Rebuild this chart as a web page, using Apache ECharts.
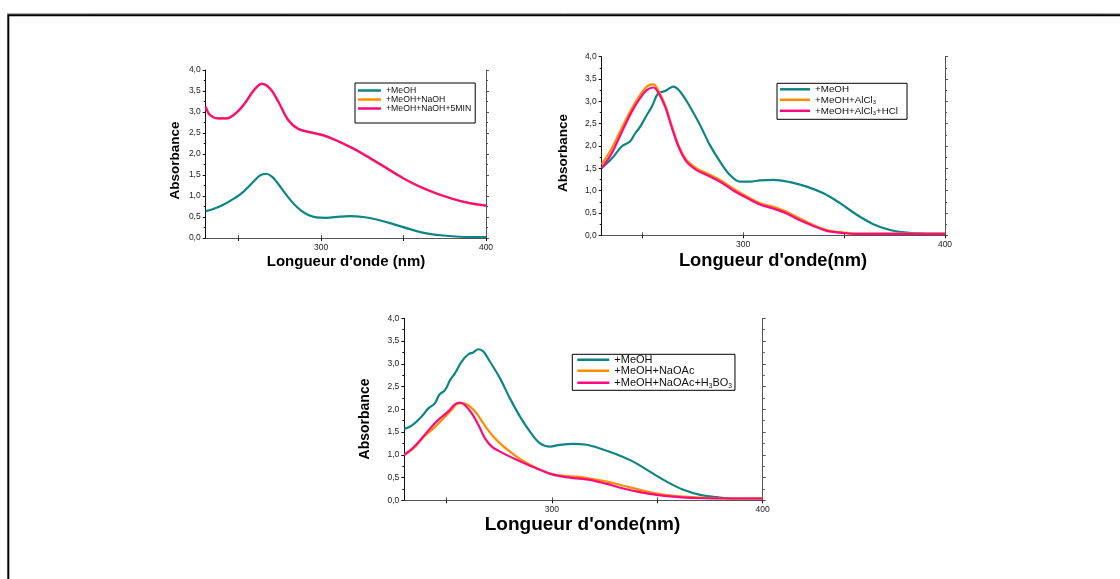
<!DOCTYPE html>
<html><head><meta charset="utf-8">
<script src="https://cdn.jsdelivr.net/npm/echarts@6/dist/echarts.min.js"></script>
<style>html,body{margin:0;padding:0;background:#fff}#c{width:1120px;height:579px}</style>
</head><body><div id="c"></div>
<script>
// ---------- DATA ----------
const X_TICKS = [250, 300, 350, 400];
const X_LABELS = [300, 400];

// Panel 1: MeOH / MeOH+NaOH / MeOH+NaOH+5MIN
const P1_WL_MEOH = [230,234.6,240.7,246.8,252.8,258.9,263,266.5,270,273,279,285,291,297,303,311.5,317.5,325.6,333.7,343.8,353.9,364,374,384,400];
const P1_MEOH    = [0.64,0.69,0.79,0.93,1.10,1.34,1.49,1.53,1.47,1.34,1.02,0.75,0.57,0.49,0.48,0.51,0.52,0.50,0.44,0.33,0.21,0.11,0.06,0.03,0.02];
const P1_WL_NAOH = [230,232.6,237.7,242.7,248.8,253.8,258.9,264,269,274,280,286,293,301,309,319.5,329.7,339.8,349.9,360,370,380,390,400];
const P1_NAOH    = [3.13,2.93,2.85,2.85,2.99,3.21,3.50,3.67,3.56,3.25,2.81,2.60,2.52,2.45,2.33,2.13,1.90,1.66,1.42,1.22,1.06,0.93,0.83,0.77];
const P1_NAOH5   = [3.13,2.93,2.85,2.85,2.99,3.21,3.50,3.67,3.56,3.25,2.81,2.60,2.52,2.45,2.33,2.13,1.90,1.66,1.42,1.22,1.06,0.93,0.83,0.77];

// Panel 2: MeOH / MeOH+AlCl3 / MeOH+AlCl3+HCl
const P2_WL_MEOH = [230,235,239.9,244,246.5,249,252.3,254.8,258,261.4,265.5,268.8,273.7,278.7,283.6,288.6,293.5,298.5,303.4,308.4,315,323.3,331.5,339.8,348,356.3,364.5,372.8,381,389.3,400];
const P2_MEOH    = [1.51,1.72,1.99,2.10,2.28,2.43,2.69,2.88,3.18,3.23,3.33,3.22,2.88,2.47,2.02,1.65,1.35,1.20,1.20,1.23,1.24,1.19,1.09,0.94,0.72,0.46,0.25,0.12,0.06,0.04,0.03];
const P2_WL_AL   = [230,235,239.9,244.9,249,252.3,255.6,258,261.4,264.6,268,272,277,282,288.6,295,301.8,308.4,315,321.6,328,334.8,341.4,348,356.3,372.8,400];
const P2_ALCL3   = [1.59,1.95,2.40,2.84,3.14,3.33,3.38,3.25,2.92,2.47,2.02,1.69,1.50,1.39,1.24,1.05,0.87,0.72,0.64,0.53,0.38,0.23,0.12,0.07,0.04,0.04,0.04];
const P2_ALCL3_HCL = [1.50,1.84,2.31,2.77,3.07,3.25,3.31,3.20,2.88,2.43,1.99,1.65,1.46,1.35,1.20,1.01,0.84,0.69,0.60,0.49,0.34,0.21,0.10,0.06,0.03,0.03,0.03];

// Panel 3: MeOH / MeOH+NaOAc / MeOH+NaOAc+H3BO3
const P3_WL_MEOH = [230,233.5,238.2,241.4,244.5,246.6,249.3,251.7,254,257.2,260.4,262.7,265.1,267.5,270.6,275.4,280.1,284.9,289.6,294.4,299.1,303.8,310.2,316.5,322.8,330.7,338.6,346.5,354.4,362.4,370.3,378.2,386,400];
const P3_MEOH    = [1.57,1.64,1.84,2.02,2.13,2.32,2.42,2.64,2.79,3.05,3.21,3.25,3.32,3.27,3.05,2.68,2.24,1.84,1.51,1.25,1.18,1.22,1.24,1.22,1.14,1.01,0.85,0.63,0.41,0.23,0.12,0.07,0.04,0.04];
const P3_WL_OAC  = [230,234.3,239,243.8,248.5,252.5,255.6,258,261.2,264.3,267.5,271.5,275.4,280.1,284.9,289.6,294.4,299.1,305.4,311.8,318.1,326,333.9,341.8,349.7,357.6,367,378.2,400];
const P3_NAOAC   = [1.00,1.14,1.38,1.58,1.80,1.99,2.13,2.13,2.06,1.91,1.69,1.44,1.25,1.07,0.91,0.78,0.67,0.59,0.54,0.52,0.48,0.41,0.32,0.23,0.15,0.10,0.07,0.04,0.04];
const P3_WL_BOR  = [230,234.3,239,243.8,246.9,251,254,256.4,258.8,262,265.1,268.3,271.5,275.4,280.1,284.9,289.6,294.4,299.1,305.4,311.8,318.1,326,333.9,341.8,349.7,357.6,367,400];
const P3_NAOAC_H3BO3 = [1.00,1.16,1.40,1.66,1.80,1.96,2.11,2.15,2.09,1.91,1.66,1.36,1.18,1.07,0.96,0.86,0.76,0.67,0.58,0.52,0.48,0.45,0.36,0.26,0.18,0.12,0.08,0.05,0.04];

// ---------- STYLE ----------
const TEAL = '#0E8585', ORANGE = '#FF8C00', PINK = '#FF0A7E';
const zip = (xs, ys) => xs.map((x, i) => [x, ys[i]]);

const GRIDS = [
  {left: 205.7, top: 70,    width: 280.3, height: 168},
  {left: 601.7, top: 56.7,  width: 343.3, height: 178.6},
  {left: 404.3, top: 318.3, width: 358.4, height: 182}
];

const LEG_TEXT = {
  p1a: '{n|+MeOH}', p1b: '{n|+MeOH+NaOH}', p1c: '{n|+MeOH+NaOH+5MIN}',
  p2a: '{n|+MeOH}', p2b: '{n|+MeOH+AlCl}{s|3}', p2c: '{n|+MeOH+AlCl}{s|3}{n|+HCl}',
  p3a: '{n|+MeOH}', p3b: '{n|+MeOH+NaOAc}', p3c: '{n|+MeOH+NaOAc+H}{s|3}{n|BO}{s|3}'
};

const xAxes = [], yAxes = [];
GRIDS.forEach((g, i) => {
  xAxes.push({
    type: 'value', gridIndex: i, min: 230, max: 400, position: 'bottom',
    axisLine: {lineStyle: {color: '#111', width: 1}},
    axisTick: {show: true, customValues: X_TICKS, length: 3, lineStyle: {color: '#111'}},
    axisLabel: {customValues: X_LABELS, fontSize: 8.5, color: '#222', margin: 5, fontFamily: 'Arial'},
    splitLine: {show: false}
  });
  xAxes.push({
    type: 'value', gridIndex: i, min: 230, max: 400, position: 'top',
    axisLine: {lineStyle: {color: '#555', width: 1}},
    axisTick: {show: true, customValues: X_TICKS, length: 3, lineStyle: {color: '#555'}},
    axisLabel: {show: false}, splitLine: {show: false}
  });
  yAxes.push({
    type: 'value', gridIndex: i, min: 0, max: 4, interval: 0.5, position: 'left',
    axisLine: {show: true, lineStyle: {color: '#111', width: 1}},
    axisTick: {show: true, length: 3, lineStyle: {color: '#111'}},
    minorTick: {show: true, splitNumber: 2, length: 2, lineStyle: {color: '#111'}},
    axisLabel: {fontSize: 8.5, color: '#222', margin: 5, fontFamily: 'Arial',
      formatter: v => v.toFixed(1).replace('.', ',')},
    splitLine: {show: false}
  });
  yAxes.push({
    type: 'value', gridIndex: i, min: 0, max: 4, interval: 0.5, position: 'right',
    axisLine: {show: true, lineStyle: {color: '#555', width: 1}},
    axisTick: {show: true, length: 3, lineStyle: {color: '#555'}},
    minorTick: {show: true, splitNumber: 2, length: 2, lineStyle: {color: '#555'}},
    axisLabel: {show: false}, splitLine: {show: false}
  });
});

function line(name, grid, data, color, z) {
  return {
    name, type: 'line', xAxisIndex: grid * 2, yAxisIndex: grid * 2, data,
    showSymbol: false, smooth: 0.35, color, z,
    lineStyle: {width: 2.2, color}, emphasis: {disabled: true}, animation: false
  };
}

const series = [
  line('p1a', 0, zip(P1_WL_MEOH, P1_MEOH), TEAL, 2),
  line('p1b', 0, zip(P1_WL_NAOH, P1_NAOH), ORANGE, 3),
  line('p1c', 0, zip(P1_WL_NAOH, P1_NAOH5), PINK, 4),
  line('p2a', 1, zip(P2_WL_MEOH, P2_MEOH), TEAL, 2),
  line('p2b', 1, zip(P2_WL_AL, P2_ALCL3), ORANGE, 3),
  line('p2c', 1, zip(P2_WL_AL, P2_ALCL3_HCL), PINK, 4),
  line('p3a', 2, zip(P3_WL_MEOH, P3_MEOH), TEAL, 2),
  line('p3b', 2, zip(P3_WL_OAC, P3_NAOAC), ORANGE, 3),
  line('p3c', 2, zip(P3_WL_BOR, P3_NAOAC_H3BO3), PINK, 4)
];

function legend(names, left, top, fs, lh, iw, pad) {
  const sp = Math.round(fs * 0.5);
  return {
    data: names, orient: 'vertical', left, top, padding: pad, itemGap: 0,
    itemWidth: iw, itemHeight: 2.5, icon: 'rect', selectedMode: false,
    borderColor: '#000', borderWidth: 1, backgroundColor: '#fff',
    formatter: n => LEG_TEXT[n],
    textStyle: {
      fontFamily: 'Arial', color: '#111',
      rich: {
        n: {fontSize: fs, lineHeight: lh, fontFamily: 'Arial', color: '#111'},
        s: {fontSize: fs * 0.6, lineHeight: lh - sp, fontFamily: 'Arial', color: '#111', padding: [sp, 0, 0, 0]}
      }
    }
  };
}

const T = {fontFamily: 'Arial', fontWeight: 'bold', fill: '#000'};
const graphic = [
  {type: 'line', shape: {x1: 7, y1: 13.8, x2: 1120, y2: 13.8}, style: {stroke: '#888', lineWidth: 1}, silent: true},
  {type: 'rect', shape: {x: 8.3, y: 15.2, width: 1200, height: 700}, style: {fill: 'none', stroke: '#000', lineWidth: 2}, silent: true},
  {type: 'text', x: 346, y: 262, style: Object.assign({text: "Longueur d'onde (nm)", fontSize: 15, align: 'center', verticalAlign: 'middle'}, T)},
  {type: 'text', x: 773, y: 261, style: Object.assign({text: "Longueur d'onde(nm)", fontSize: 18.3, align: 'center', verticalAlign: 'middle'}, T)},
  {type: 'text', x: 582.5, y: 525, style: Object.assign({text: "Longueur d'onde(nm)", fontSize: 19, align: 'center', verticalAlign: 'middle'}, T)},
  {type: 'text', x: 175, y: 160.5, rotation: Math.PI / 2, style: Object.assign({text: 'Absorbance', fontSize: 13.5, align: 'center', verticalAlign: 'middle'}, T)},
  {type: 'text', x: 563, y: 153, rotation: Math.PI / 2, style: Object.assign({text: 'Absorbance', fontSize: 13.5, align: 'center', verticalAlign: 'middle'}, T)},
  {type: 'text', x: 365, y: 419, rotation: Math.PI / 2, style: Object.assign({text: 'Absorbance', fontSize: 14, align: 'center', verticalAlign: 'middle'}, T)}
];

const chart = echarts.init(document.getElementById('c'), null, {renderer: 'canvas'});
chart.setOption({
  backgroundColor: '#fff',
  animation: false,
  grid: GRIDS.map(g => Object.assign({containLabel: false}, g)),
  xAxis: xAxes,
  yAxis: yAxes,
  legend: [
    legend(['p1a', 'p1b', 'p1c'], 355, 83, 8.7, 10, 23, [3, 4, 10, 3]),
    legend(['p2a', 'p2b', 'p2c'], 777, 83.3, 9.8, 9.5, 30, [1, 9, 3, 3]),
    legend(['p3a', 'p3b', 'p3c'], 572.3, 354.3, 11, 11, 32, [0, 3, 1, 5])
  ],
  series,
  graphic
});
</script>
</body></html>
